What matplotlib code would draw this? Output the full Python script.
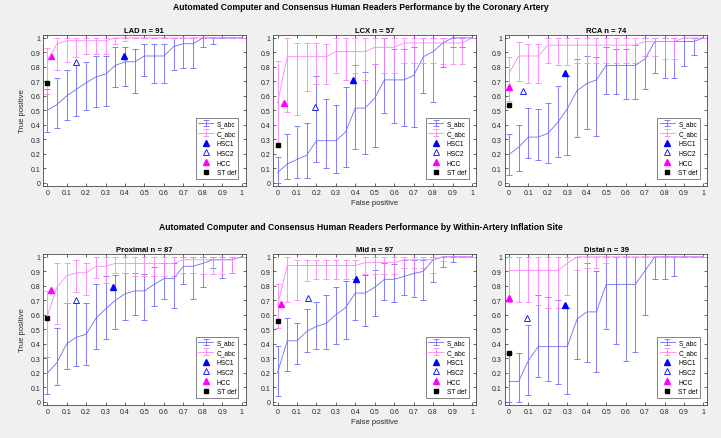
import matplotlib
matplotlib.use('Agg')
import matplotlib.pyplot as plt

plt.rcParams['font.family'] = ['Liberation Sans', 'DejaVu Sans']

fpr = [0, 0.05, 0.1, 0.15, 0.2, 0.25, 0.3, 0.35, 0.4, 0.45, 0.5,
       0.55, 0.6, 0.65, 0.7, 0.75, 0.8, 0.85, 0.9, 0.95, 1]
tick_vals = [0, 0.1, 0.2, 0.3, 0.4, 0.5, 0.6, 0.7, 0.8, 0.9, 1]
tick_labels = ['0', '0.1', '0.2', '0.3', '0.4', '0.5', '0.6', '0.7', '0.8', '0.9', '1']

# LAD
lad_s = [0.50, 0.54, 0.60, 0.645, 0.69, 0.73, 0.75, 0.81, 0.835, 0.835, 0.875, 0.875, 0.875, 0.94, 0.96, 0.96, 1, 1, 1, 1, 1]
lad_s_lo = [0.35, 0.38, 0.43, 0.46, 0.50, 0.52, 0.53, 0.66, 0.67, 0.62, 0.74, 0.69, 0.69, 0.78, 0.79, 0.79, 0.94, 0.955, 1, 1, 1]
lad_s_hi = [0.65, 0.72, 0.78, 0.81, 0.835, 0.875, 0.875, 0.935, 0.94, 0.925, 0.96, 0.96, 0.96, 1, 1, 1, 1, 1, 1, 1, 1]
lad_c = [0.84, 0.96, 0.98, 0.98, 0.98, 0.98, 0.98, 1, 1, 1, 1, 1, 1, 1, 1, 1, 1, 1, 1, 1, 1]
lad_c_lo = [0.61, 0.78, 0.835, 0.87, 0.89, 0.89, 0.89, 0.96, 0.98, 1, 1, 1, 1, 1, 1, 1, 1, 1, 1, 1, 1]
lad_c_hi = [0.93, 1, 1, 1, 1, 1, 1, 1, 1, 1, 1, 1, 1, 1, 1, 1, 1, 1, 1, 1, 1]
lad_pts = {'HSC1': (0.395, 0.875), 'HSC2': (0.15, 0.835), 'HCC': (0.02, 0.875), 'ST def': (0.0, 0.69)}

# LCX
lcx_s = [0.07, 0.13, 0.16, 0.19, 0.29, 0.29, 0.29, 0.35, 0.515, 0.515, 0.585, 0.71, 0.71, 0.71, 0.74, 0.87, 0.905, 0.965, 1, 1, 1]
lcx_s_lo = [0.0, 0.025, 0.03, 0.035, 0.14, 0.10, 0.065, 0.11, 0.235, 0.195, 0.245, 0.48, 0.41, 0.39, 0.385, 0.62, 0.56, 0.80, 0.935, 0.94, 1]
lcx_s_hi = [0.175, 0.335, 0.39, 0.41, 0.735, 0.575, 0.535, 0.66, 0.815, 0.765, 0.82, 1, 0.925, 0.92, 0.94, 1, 1, 1, 1, 1, 1]
lcx_c = [0.55, 0.87, 0.87, 0.87, 0.87, 0.87, 0.905, 0.905, 0.905, 0.905, 0.935, 0.935, 0.935, 0.965, 0.965, 0.965, 0.965, 0.965, 0.965, 0.965, 1]
lcx_c_lo = [0.25, 0.485, 0.465, 0.635, 0.68, 0.68, 0.76, 0.71, 0.76, 0.71, 0.82, 0.76, 0.76, 0.83, 0.83, 0.83, 0.83, 0.82, 0.82, 0.82, 1]
lcx_c_hi = [0.84, 1, 0.965, 0.965, 0.965, 0.96, 1, 1, 1, 1, 1, 1, 1, 1, 1, 1, 1, 1, 1, 1, 1]
lcx_pts = {'HSC1': (0.39, 0.71), 'HSC2': (0.195, 0.52), 'HCC': (0.035, 0.55), 'ST def': (0.0, 0.26)}

# RCA
rca_s = [0.195, 0.245, 0.315, 0.315, 0.34, 0.415, 0.51, 0.635, 0.685, 0.71, 0.81, 0.81, 0.81, 0.81, 0.855, 0.975, 0.975, 0.975, 0.975, 0.975, 1]
rca_s_lo = [0.05, 0.08, 0.17, 0.16, 0.135, 0.175, 0.19, 0.315, 0.37, 0.325, 0.615, 0.61, 0.575, 0.58, 0.65, 0.755, 0.72, 0.72, 0.805, 0.885, 1]
rca_s_hi = [0.335, 0.395, 0.515, 0.51, 0.55, 0.67, 0.735, 0.855, 0.875, 0.865, 0.935, 0.925, 0.925, 0.95, 1, 1, 1, 1, 1, 1, 1]
rca_c = [0.755, 0.875, 0.875, 0.875, 0.95, 0.95, 0.95, 0.95, 0.95, 0.95, 0.95, 0.95, 0.95, 0.95, 0.975, 0.975, 0.975, 0.975, 1, 1, 1]
rca_c_lo = [0.565, 0.70, 0.69, 0.69, 0.83, 0.815, 0.815, 0.83, 0.83, 0.83, 0.83, 0.83, 0.83, 0.83, 0.875, 0.875, 0.855, 0.855, 1, 1, 1]
rca_c_hi = [0.87, 0.97, 0.96, 0.955, 1, 1, 1, 1, 1, 1, 1, 1, 1, 1, 1, 1, 1, 1, 1, 1, 1]
rca_pts = {'HSC1': (0.29, 0.76), 'HSC2': (0.07, 0.635), 'HCC': (0.0, 0.66), 'ST def': (0.0, 0.535)}

# Proximal
prox_s = [0.195, 0.27, 0.40, 0.445, 0.465, 0.575, 0.64, 0.70, 0.745, 0.765, 0.765, 0.81, 0.85, 0.85, 0.935, 0.935, 0.955, 0.98, 0.98, 0.98, 1]
prox_s_lo = [0.055, 0.115, 0.225, 0.245, 0.25, 0.365, 0.435, 0.50, 0.565, 0.60, 0.565, 0.66, 0.71, 0.65, 0.815, 0.71, 0.79, 0.92, 0.855, 0.89, 1]
prox_s_hi = [0.31, 0.51, 0.68, 0.68, 0.68, 0.81, 0.865, 0.875, 0.89, 0.89, 0.885, 0.93, 0.96, 0.96, 1, 1, 1, 1, 1, 1, 1]
prox_c = [0.59, 0.79, 0.87, 0.89, 0.89, 0.935, 0.935, 0.955, 0.955, 0.955, 0.955, 0.955, 0.955, 0.955, 0.98, 0.98, 0.98, 0.98, 0.98, 0.98, 1]
prox_c_lo = [0.31, 0.535, 0.68, 0.76, 0.735, 0.855, 0.82, 0.89, 0.89, 0.87, 0.87, 0.87, 0.87, 0.87, 0.89, 0.89, 0.885, 0.885, 0.885, 0.89, 1]
prox_c_hi = [0.765, 0.955, 0.96, 0.975, 0.96, 1, 1, 1, 1, 1, 1, 1, 1, 1, 1, 1, 1, 1, 1, 1, 1]
prox_pts = {'HSC1': (0.34, 0.79), 'HSC2': (0.15, 0.705), 'HCC': (0.02, 0.77), 'ST def': (0.0, 0.575)}

# Mid
mid_s = [0.20, 0.42, 0.42, 0.485, 0.52, 0.54, 0.60, 0.65, 0.75, 0.75, 0.79, 0.845, 0.845, 0.865, 0.885, 0.90, 0.98, 1, 1, 1, 1]
mid_s_lo = [0.04, 0.21, 0.26, 0.345, 0.365, 0.365, 0.395, 0.43, 0.565, 0.525, 0.595, 0.705, 0.685, 0.74, 0.72, 0.705, 0.825, 0.93, 0.965, 1, 1]
mid_s_hi = [0.385, 0.575, 0.545, 0.64, 0.69, 0.74, 0.795, 0.83, 0.85, 0.875, 0.91, 0.96, 0.95, 0.975, 0.98, 0.98, 1, 1, 1, 1, 1]
mid_c = [0.665, 0.94, 0.94, 0.94, 0.94, 0.94, 0.94, 0.94, 0.94, 0.96, 0.96, 0.96, 0.96, 0.98, 0.98, 0.98, 0.98, 1, 1, 1, 1]
mid_c_lo = [0.51, 0.69, 0.70, 0.835, 0.845, 0.845, 0.845, 0.845, 0.845, 0.885, 0.885, 0.885, 0.885, 0.92, 0.92, 0.92, 0.89, 0.97, 1, 1, 1]
mid_c_hi = [0.81, 1, 0.98, 0.98, 0.98, 0.98, 0.98, 0.98, 0.98, 1, 1, 1, 1, 1, 1, 1, 1, 1, 1, 1, 1]
mid_pts = {'HSC1': (0.405, 0.85), 'HSC2': (0.155, 0.715), 'HCC': (0.02, 0.675), 'ST def': (0.0, 0.555)}

# Distal
dist_s = [0.14, 0.14, 0.285, 0.38, 0.38, 0.38, 0.38, 0.57, 0.62, 0.62, 0.81, 0.81, 0.81, 0.81, 0.905, 1, 1, 1, 1, 1, 1]
dist_s_lo = [0.0, 0.0, 0.045, 0.17, 0.14, 0.125, 0.05, 0.295, 0.275, 0.205, 0.50, 0.40, 0.28, 0.345, 0.60, 0.85, 0.845, 0.865, 1, 1, 1]
dist_s_hi = [0.335, 0.335, 0.53, 0.74, 0.72, 0.70, 0.65, 1, 0.96, 0.905, 1, 1, 1, 1, 1, 1, 1, 1, 1, 1, 1]
dist_c = [0.905, 0.905, 0.905, 0.905, 0.905, 0.905, 0.955, 1, 1, 1, 1, 1, 1, 1, 1, 1, 1, 1, 1, 1, 1]
dist_c_lo = [0.69, 0.69, 0.685, 0.67, 0.65, 0.65, 0.74, 0.91, 0.92, 0.92, 0.955, 1, 1, 1, 1, 1, 1, 1, 1, 1, 1]
dist_c_hi = [1, 1, 1, 1, 1, 1, 1, 1, 1, 1, 1, 1, 1, 1, 1, 1, 1, 1, 1, 1, 1]
dist_pts = {'HSC1': (0.29, 0.67), 'HSC2': (0.095, 0.575), 'HCC': (0.0, 0.715), 'ST def': (0.0, 0.335)}

panels = [
    ('LAD n = 91', lad_s, lad_s_lo, lad_s_hi, lad_c, lad_c_lo, lad_c_hi, lad_pts),
    ('LCX n = 57', lcx_s, lcx_s_lo, lcx_s_hi, lcx_c, lcx_c_lo, lcx_c_hi, lcx_pts),
    ('RCA n = 74', rca_s, rca_s_lo, rca_s_hi, rca_c, rca_c_lo, rca_c_hi, rca_pts),
    ('Proximal n = 87', prox_s, prox_s_lo, prox_s_hi, prox_c, prox_c_lo, prox_c_hi, prox_pts),
    ('Mid n = 97', mid_s, mid_s_lo, mid_s_hi, mid_c, mid_c_lo, mid_c_hi, mid_pts),
    ('Distal n = 39', dist_s, dist_s_lo, dist_s_hi, dist_c, dist_c_lo, dist_c_hi, dist_pts),
]

s_col = '#6b6bff'
c_col = '#ff80ff'
txt_col = '#262626'

fig = plt.figure(figsize=(7.21, 4.39), dpi=100, facecolor='#f0f0f0')

lefts = [0.0596, 0.379, 0.700]
bottoms = [0.574, 0.0752]
w, h = 0.281, 0.345


def err(v, lo, hi):
    return [[max(a - b, 0) for a, b in zip(v, lo)], [max(b - a, 0) for a, b in zip(v, hi)]]


for i, (title, s, s_lo, s_hi, c, c_lo, c_hi, pts) in enumerate(panels):
    row, col = divmod(i, 3)
    ax = fig.add_axes([lefts[col], bottoms[row], w, h])
    h_s = ax.errorbar(fpr, s, yerr=err(s, s_lo, s_hi), color=s_col, lw=0.6, elinewidth=0.6,
                      capsize=2.0, capthick=0.6)
    h_c = ax.errorbar(fpr, c, yerr=err(c, c_lo, c_hi), color=c_col, lw=0.6, elinewidth=0.6,
                      capsize=2.0, capthick=0.6)
    h1, = ax.plot(*pts['HSC1'], '^', color='#0000ff', ms=4, ls='none')
    h2, = ax.plot(*pts['HSC2'], '^', mfc='white', mec='#0000ff', mew=0.6, ms=4, ls='none')
    h3, = ax.plot(*pts['HCC'], '^', color='#ff00ff', ms=4, ls='none')
    h4, = ax.plot(*pts['ST def'], 's', color='black', ms=3, ls='none')

    ax.set_xlim(-0.022, 1.02)
    ax.set_ylim(-0.023, 1.023)
    ax.set_xticks(tick_vals)
    ax.set_xticklabels(tick_labels)
    ax.set_yticks(tick_vals)
    ax.set_yticklabels(tick_labels)
    ax.tick_params(direction='in', length=2.5, width=0.5, labelsize=5, colors=txt_col,
                   top=True, right=True, pad=2)
    for sp in ax.spines.values():
        sp.set_linewidth(0.5)
        sp.set_color('#262626')
    ax.set_title(title, fontsize=5.5, fontweight='bold', pad=2, color='black')
    if col == 0:
        ax.set_ylabel('True positive', fontsize=5.5, color=txt_col, labelpad=3)
    if col == 1:
        ax.set_xlabel('False positive', fontsize=5.5, color=txt_col, labelpad=2)
    leg = ax.legend([h_s, h_c, h1, h2, h3, h4], ['S_abc', 'C_abc', 'HSC1', 'HSC2', 'HCC', 'ST def'],
                    loc='lower right', fontsize=4.8, frameon=True, fancybox=False,
                    edgecolor='#262626', borderaxespad=1.1, labelspacing=0.42,
                    handlelength=2.3, handletextpad=0.5, borderpad=0.35)
    leg.get_frame().set_linewidth(0.5)

fig.text(0.5, 1 - 7 / 439, 'Automated Computer and Consensus Human Readers Performance by the Coronary Artery',
         ha='center', va='center', fontsize=6.2, fontweight='bold')
fig.text(0.5, 1 - 227 / 439, 'Automated Computer and Consensus Human Readers Performance by Within-Artery Inflation Site',
         ha='center', va='center', fontsize=6.2, fontweight='bold')

fig.savefig('out.png', dpi=100, facecolor=fig.get_facecolor())
